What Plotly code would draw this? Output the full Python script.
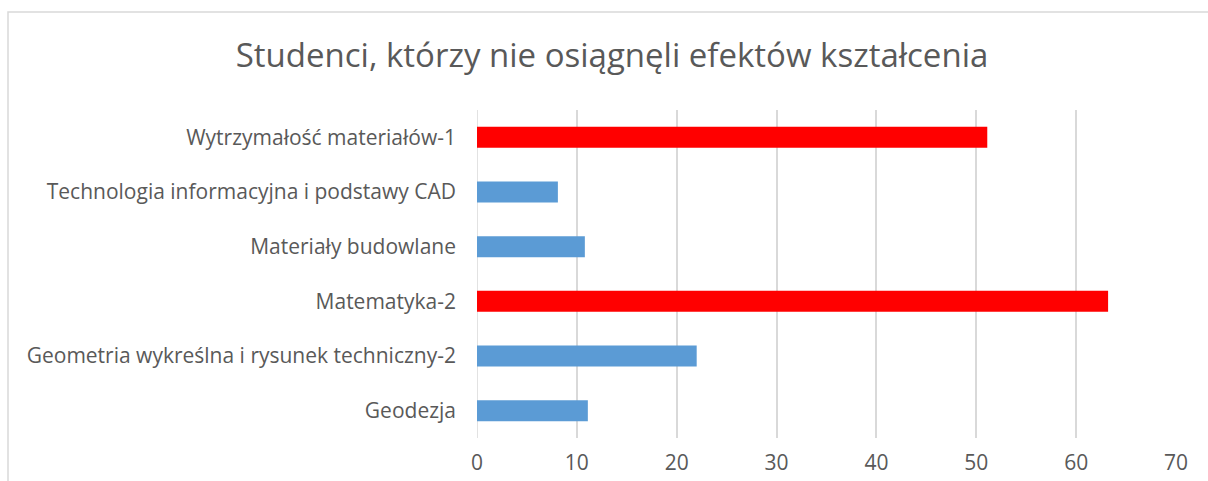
import plotly.graph_objects as go

categories = [
    "Geodezja",
    "Geometria wykreślna i rysunek techniczny-2",
    "Matematyka-2",
    "Materiały budowlane",
    "Technologia informacyjna i podstawy CAD",
    "Wytrzymałość materiałów-1",
]
values = [11.1, 22, 63.2, 10.8, 8.1, 51.1]
bar_colors = ["#5B9BD5", "#5B9BD5", "#FF0000", "#5B9BD5", "#5B9BD5", "#FF0000"]
x_ticks = [0, 10, 20, 30, 40, 50, 60, 70]

title_text = "Studenci, którzy nie osiągnęli efektów kształcenia"

fig = go.Figure(
    go.Bar(
        x=values,
        y=categories,
        orientation="h",
        marker=dict(color=bar_colors, line=dict(width=0)),
        hoverinfo="x+y",
    )
)

W, H = 1208, 481
ml, mr, mt, mb = 477, 32, 110, 43
pw = W - ml - mr
ph = H - mt - mb

fig.update_layout(
    width=W,
    height=H,
    margin=dict(l=ml, r=mr, t=mt, b=mb, pad=0, autoexpand=False),
    paper_bgcolor="white",
    plot_bgcolor="white",
    bargap=0.615,
    showlegend=False,
    title=dict(
        text=title_text,
        x=612 / W,
        xanchor="center",
        y=1 - 55 / H,
        yanchor="middle",
        font=dict(family="Open Sans", size=33, color="#595959"),
    ),
    font=dict(family="Open Sans", color="#595959"),
    xaxis=dict(
        range=[0, 70],
        tickvals=x_ticks,
        ticktext=[str(v) for v in x_ticks],
        showgrid=True,
        gridcolor="#D9D9D9",
        gridwidth=1.5,
        zeroline=False,
        showline=False,
        ticks="",
        tickfont=dict(family="Open Sans", size=21, color="#595959"),
        ticklabelstandoff=10,
        automargin=False,
        fixedrange=True,
    ),
    yaxis=dict(
        showgrid=False,
        zeroline=False,
        showline=False,
        ticks="",
        tickfont=dict(family="Open Sans", size=21, color="#595959"),
        ticklabelstandoff=20,
        automargin=False,
        fixedrange=True,
    ),
    shapes=[
        dict(
            type="rect",
            xref="paper",
            yref="paper",
            x0=(8 - ml) / pw,
            x1=(W + 20 - ml) / pw,
            y0=-(mb + 20) / ph,
            y1=(H - mb - 12) / ph,
            line=dict(color="#D9D9D9", width=1.5),
            fillcolor="rgba(0,0,0,0)",
            layer="below",
        ),
        dict(
            type="line",
            xref="x",
            yref="paper",
            x0=0,
            x1=0,
            y0=0,
            y1=1,
            line=dict(color="#D9D9D9", width=1.5),
            layer="below",
        ),
    ],
)

fig.write_html(
    "out.html",
    config={"displayModeBar": False},
    post_script="document.body.style.margin='0';document.body.style.overflow='hidden';",
)
